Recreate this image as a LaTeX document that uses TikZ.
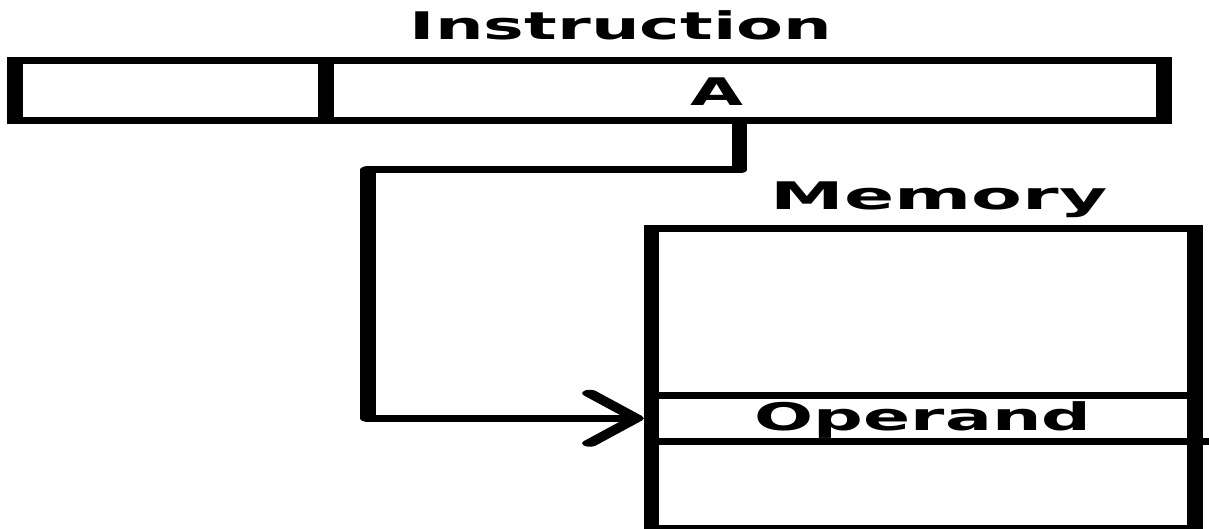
\documentclass[tikz,border=0pt]{standalone}
\usepackage{fontspec}
\setmainfont{DejaVu Sans}
\usetikzlibrary{arrows.meta}
\tikzset{
  field/.style={draw, inner sep=0pt, minimum height=60pt},
  conn/.style={line join=round, -{Straight Barb[length=21pt, width=50pt, round]}},
  lbl/.style={anchor=base, inner sep=0pt, font=\fontsize{38}{38}\selectfont\bfseries}
}
\begin{document}
\begin{tikzpicture}[x=1pt, y=-1pt]
\useasboundingbox (0,0) rectangle (1209,529);
\begin{scope}[transform canvas={xscale=2.2}, x=0.454545pt, y=-1pt, line width=7pt]
  \node[field, minimum width=141.36pt] (opc) at (170.5,90.5) {};
  \node[field, minimum width=380.91pt] (addr) at (745,90.5) {};
  \node[field, minimum width=247.05pt, minimum height=300pt] (mem) at (923.25,378.5) {};
  \node[field, minimum width=247.05pt, minimum height=46.5pt] (opnd) at (923.25,418.25) {};
  \coordinate (px) at (739.5,0);
  \coordinate (lx) at (368,170);
  \draw[conn] (addr.south -| px) |- (lx) |- (opnd.west);
  \draw (opnd.south east) ++(0,-3.5) -- ++(8,0);
\end{scope}
\node[lbl] (tinstr) at (621,40) {\scalebox{1.8}[1]{Instruction}};
\node[lbl] (tA) at (717,106) {\scalebox{1.8}[1]{A}};
\node[lbl] (tmem) at (939,210) {\scalebox{1.95}[1]{Memory}};
\node[lbl] (topnd) at (923,430) {\scalebox{1.83}[1]{Operand}};
\end{tikzpicture}
\end{document}
